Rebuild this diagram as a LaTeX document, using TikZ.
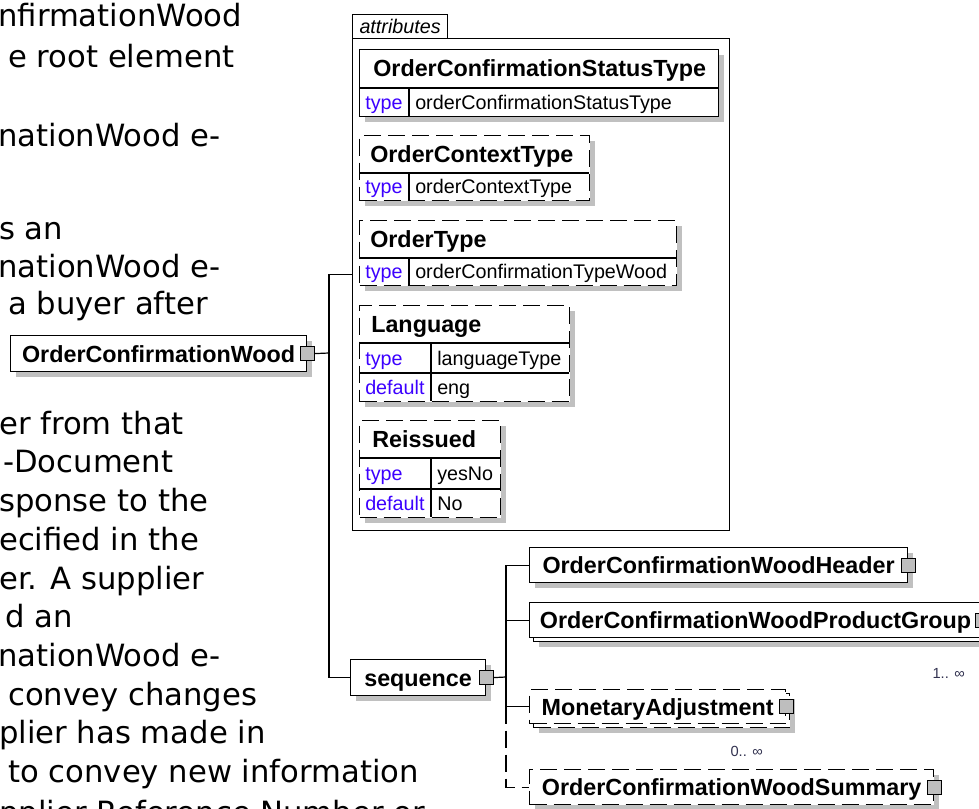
\documentclass[tikz,border=0pt]{standalone}
\usepackage{fontspec}
\setmainfont{Liberation Sans}
\newfontfamily\pagefont{DejaVu Sans}
\usetikzlibrary{shadows}

\definecolor{shadowgray}{RGB}{192,192,192}
\definecolor{keyblue}{RGB}{60,0,255}
\definecolor{squaregray}{RGB}{190,190,190}
\definecolor{occgray}{RGB}{50,50,80}

\tikzset{
  boxline/.style={line width=0.9pt},
  shade box/.style={drop shadow={shadow xshift=3.75pt, shadow yshift=-3.75pt, fill=shadowgray, opacity=1}},
  optional/.style={dash pattern=on 12.75pt off 5.25pt},
  wh/.style 2 args={minimum width=#1*0.75pt, minimum height=#2*0.75pt},
  frame/.style={boxline, draw, fill=white, anchor=north west, inner sep=0pt},
  elembox/.style={frame, font=\bfseries\fontsize{17.5}{20}\selectfont, text height=12.7pt, text depth=0pt},
  elem/.style={elembox, shade box},
  attframe/.style={frame, shade box},
  attname/.style={anchor=west, inner sep=0pt, font=\bfseries\fontsize{17.5}{20}\selectfont, text height=12.7pt, text depth=0pt},
  attkey/.style={anchor=west, inner sep=0pt, text=keyblue, font=\fontsize{14.8}{17}\selectfont, text height=10.6pt, text depth=0pt},
  attval/.style={attkey, text=black},
  sq/.style={boxline, draw, fill=squaregray, minimum size=10.5pt, inner sep=0pt},
  occ/.style={anchor=east, inner sep=0pt, text=occgray, font=\fontsize{11}{13}\selectfont, text height=7.8pt, text depth=0pt},
  pagetext/.style={anchor=base west, inner sep=0pt, font=\pagefont\fontsize{23}{28}\selectfont},
}

\begin{document}
\begin{tikzpicture}[x=0.75pt, y=-0.75pt]
    \useasboundingbox (0,0) rectangle (979,809);
    \clip (0,0) rectangle (979,809);

    % page text beside the diagram
    \node[pagetext] (p1) at (-2,27) {nfirmationWood};
    \node[pagetext] (p2) at (8,68) {e root element};
    \node[pagetext] (p3) at (-2,147) {nationWood e-};
    \node[pagetext] (p4) at (-1,240) {s an};
    \node[pagetext] (p5) at (-2,278) {nationWood e-};
    \node[pagetext] (p6) at (8,315) {a buyer after};
    \node[pagetext] (p7) at (-1,435) {er from that};
    \node[pagetext] (p8) at (3,473) {-Document};
    \node[pagetext] (p9) at (-1,512) {sponse to the};
    \node[pagetext] (p10) at (-1,550) {ecified in the};
    \node[pagetext] (p11) at (-1,589) {er. A supplier};
    \node[pagetext] (p12) at (5,627) {d an};
    \node[pagetext] (p13) at (-2,666) {nationWood e-};
    \node[pagetext] (p14) at (8,705) {convey changes};
    \node[pagetext] (p15) at (-1,743) {plier has made in};
    \node[pagetext] (p16) at (8,782) {to convey new information};
    \node[pagetext] (p17) at (-1,823) {pplier Reference Number or};

    % attributes group
    \node[frame, wh={377}{492}] (attrs) at (352,38) {};
    \node[frame, wh={95}{24}, font=\itshape\fontsize{14.8}{17}\selectfont] (tab) at (352,14) {attributes};

    \node[attframe, wh={359}{67}] (status) at (359,49) {};
    \draw[boxline] (359,88) -- (718,88);
    \draw[boxline] (409,88) -- (409,116);
    \node[attname] (statusname) at (373,68.5) {OrderConfirmationStatusType};
    \node[attkey] (statuskey) at (365,102) {type};
    \node[attval] (statusval) at (415,102) {orderConfirmationStatusType};

    \node[attframe, optional, wh={230}{65}] (context) at (359,135) {};
    \draw[boxline] (359,173) -- (589,173);
    \draw[boxline] (409,173) -- (409,200);
    \node[attname] (contextname) at (370,154) {OrderContextType};
    \node[attkey] (contextkey) at (365,186.5) {type};
    \node[attval] (contextval) at (415,186.5) {orderContextType};

    \node[attframe, optional, wh={317}{65}] (ordertype) at (359,220) {};
    \draw[boxline] (359,258) -- (676,258);
    \draw[boxline] (409,258) -- (409,285);
    \node[attname] (ordertypename) at (370,239) {OrderType};
    \node[attkey] (ordertypekey) at (365,271.5) {type};
    \node[attval] (ordertypeval) at (415,271.5) {orderConfirmationTypeWood};

    \node[attframe, optional, wh={210}{96}] (lang) at (359,305) {};
    \draw[boxline] (359,343) -- (569,343);
    \draw[boxline] (359,373) -- (569,373);
    \draw[boxline] (431,343) -- (431,401);
    \node[attname] (langname) at (371,324) {Language};
    \node[attkey] (langkey) at (365,358) {type};
    \node[attval] (langval) at (437,358) {languageType};
    \node[attkey] (langdefkey) at (365,387) {default};
    \node[attval] (langdefval) at (437,387) {eng};

    \node[attframe, optional, wh={141}{97}] (reissued) at (359,420) {};
    \draw[boxline] (359,458) -- (500,458);
    \draw[boxline] (359,489) -- (500,489);
    \draw[boxline] (431,458) -- (431,517);
    \node[attname] (reissuedname) at (372,439) {Reissued};
    \node[attkey] (reissuedkey) at (365,473.5) {type};
    \node[attval] (reissuedval) at (437,473.5) {yesNo};
    \node[attkey] (reissueddefkey) at (365,503) {default};
    \node[attval] (reissueddefval) at (437,503) {No};

    % root element and its sequence
    \node[elem, wh={296}{36}] (root) at (10,335) {OrderConfirmationWood};
    \node[sq] (rootsq) at (root.east) {};
    \node[elem, wh={135}{36}] (seq) at (350,659) {sequence};
    \node[sq] (seqsq) at (seq.east) {};

    % children of the sequence
    \node[elem, wh={378}{35}] (hdr) at (529,547) {OrderConfirmationWoodHeader};
    \node[sq] (hdrsq) at (hdr.east) {};

    \node[elem, wh={452}{35}] (grpback) at (533,606) {};
    \node[elembox, wh={452}{35}] (grp) at (529,602) {OrderConfirmationWoodProductGroup};
    \node[sq] (grpsq) at (grp.east) {};
    \node[occ] (grpocc) at (965,673) {1.. ∞};

    \node[elem, optional, wh={256}{34}] (monback) at (533,693) {};
    \node[elembox, optional, wh={256}{34}] (mon) at (529,689) {MonetaryAdjustment};
    \node[sq] (monsq) at (mon.east) {};
    \node[occ] (monocc) at (763,751) {0.. ∞};

    \node[elem, optional, wh={404}{35}] (summ) at (529,769) {OrderConfirmationWoodSummary};
    \node[sq] (summsq) at (summ.east) {};

    % connectors
    \coordinate (rv) at (329,353);
    \coordinate (sv) at (506,677);
    \draw[boxline] (rootsq.east) -- (rv);
    \draw[boxline] ([yshift=7.5pt]attrs.west) -| (rv |- seq.west) -- (seq.west);
    \draw[boxline] (seqsq.east) -- (sv);
    \draw[boxline] (hdr.west) -| (sv) |- (mon.west);
    \draw[boxline] (grp.west) -- (grp.west -| sv);
    \draw[boxline, optional] (mon.west -| sv) |- (summ.west);
\end{tikzpicture}
\end{document}
